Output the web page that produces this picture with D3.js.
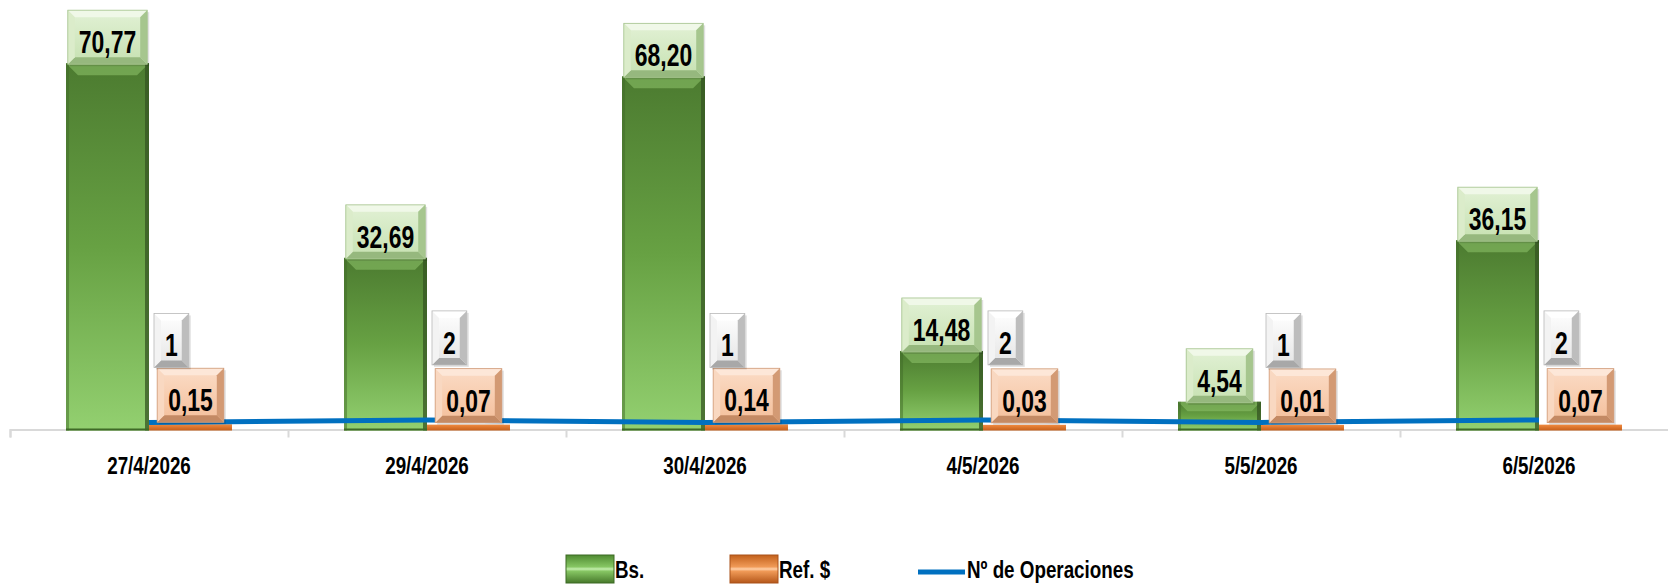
<!DOCTYPE html>
<html>
<head>
<meta charset="utf-8">
<script src="https://cdn.jsdelivr.net/npm/d3@7"></script>
<style>
  body { margin: 0; background: #fff; }
  text { font-family: "Liberation Sans", Arial, sans-serif; font-weight: bold; fill: #000; }
</style>
</head>
<body>
<div id="chart"></div>
<script>
// Chart data
const dates = ["27/4/2026", "29/4/2026", "30/4/2026", "4/5/2026", "5/5/2026", "6/5/2026"];
const bsValues = [70.77, 32.69, 68.20, 14.48, 4.54, 36.15];
const refValues = [0.15, 0.07, 0.14, 0.03, 0.01, 0.07];
const opsValues = [1, 2, 1, 2, 1, 2];
const seriesNames = ["Bs.", "Ref. $", "Nº de Operaciones"];

const width = 1668, height = 584;
const axisY = 429.5;

const svg = d3.select('#chart')
    .append('svg')
    .attr('width', width)
    .attr('height', height);

// gradients
const defs = svg.append('defs');
function vGrad(id, stops) {
    let g = defs.append('linearGradient').attr('id', id)
        .attr('x1', 0).attr('y1', 0).attr('x2', 0).attr('y2', 1);
    stops.forEach(s => g.append('stop').attr('offset', s[0]).attr('stop-color', s[1]));
}
vGrad('barGreen', [[0, '#4c7b30'], [0.5, '#67a143'], [1, '#93d070']]);
vGrad('barOrange', [[0, '#f08a40'], [1, '#c65f1a']]);
vGrad('lblGreen', [[0, '#e2f1d5'], [1, '#c6e1b1']]);
vGrad('lblWhite', [[0, '#ffffff'], [1, '#e4e4e4']]);
vGrad('lblOrange', [[0, '#fbdcc6'], [1, '#f4bf9b']]);
vGrad('legGreen', [[0, '#4f8a31'], [0.42, '#86c663'], [0.5, '#c4eeae'], [0.58, '#86c663'], [1, '#47792b']]);
vGrad('legOrange', [[0, '#c2601b'], [0.42, '#f09a57'], [0.5, '#ffd0a8'], [0.58, '#f09a57'], [1, '#b5571a']]);

const palGreen = { face: 'url(#lblGreen)', top: '#f0f8e8', left: '#dbecca', right: '#a6c68e', bottom: '#96b87e', edge: '#a3c28c' };
const palWhite = { face: 'url(#lblWhite)', top: '#ffffff', left: '#f3f3f3', right: '#bdbdbd', bottom: '#a8a8a8', edge: '#b8b8b8' };
const palOrange = { face: 'url(#lblOrange)', top: '#fde7d8', left: '#f9d8c1', right: '#d39a74', bottom: '#c48a64', edge: '#cf9a78' };

// Scales
let x0 = d3.scaleBand()
    .domain(dates)
    .range([10, 1678])
    .paddingInner(0.403)
    .paddingOuter(0.2015);

let x1 = d3.scaleBand()
    .domain(['bs', 'ref'])
    .range([0, x0.bandwidth()]);

let xIdx = d3.scaleLinear()
    .domain([0, dates.length])
    .range([10, 1678]);

let yBar = d3.scaleLinear()
    .domain([0, 80])
    .range([425, 16]);

// hidden secondary axis for the operations line
let yOps = d3.scaleLinear()
    .domain([0, 160])
    .range([425, 16]);

// axis line + boundary ticks
let axisG = svg.append('g')
    .attr('transform', `translate(0, ${axisY})`)
    .call(d3.axisBottom(xIdx).ticks(dates.length).tickFormat('').tickSize(8).tickSizeOuter(8));
axisG.selectAll('path, line').attr('stroke', '#d9d9d9').attr('stroke-width', 2);

// category labels
let labG = svg.append('g')
    .attr('transform', `translate(0, ${axisY})`)
    .call(d3.axisBottom(x0).tickSize(0));
labG.select('.domain').remove();
labG.selectAll('text')
    .attr('y', 45)
    .attr('dy', 0)
    .style('font-size', '23.5px')
    .style('font-family', '"Liberation Sans", Arial, sans-serif')
    .style('font-weight', 'bold')
    .attr('fill', '#000')
    .attr('transform', 'scale(0.8,1)');

// green bars
let barG = svg.append('g');
dates.forEach((d, i) => {
    let bx = x0(d) + x1('bs');
    let bw = x1.bandwidth();
    let top = yBar(bsValues[i]);
    let h = axisY + 1 - top;
    let g = barG.append('g');
    g.append('rect')
        .attr('x', bx).attr('y', top)
        .attr('width', bw).attr('height', h)
        .attr('fill', 'url(#barGreen)');
    // bevel touches
    let b = Math.min(12, h / 3);
    g.append('polygon')
        .attr('points', [[bx, top], [bx + bw, top], [bx + bw - b, top + b], [bx + b, top + b]].join(' '))
        .attr('fill', '#8fc46c').attr('opacity', 0.55);
    g.append('rect')
        .attr('x', bx + bw - 4).attr('y', top)
        .attr('width', 4).attr('height', h)
        .attr('fill', '#345421').attr('opacity', 0.75);
    g.append('rect')
        .attr('x', bx).attr('y', top)
        .attr('width', 3).attr('height', h)
        .attr('fill', '#3f6a27').attr('opacity', 0.5);
    g.append('rect')
        .attr('x', bx).attr('y', axisY - 1)
        .attr('width', bw).attr('height', 2)
        .attr('fill', '#3f6a27');
});

// orange bars
dates.forEach((d, i) => {
    let bx = x0(d) + x1('ref');
    let top = yBar(refValues[i]);
    barG.append('rect')
        .attr('x', bx).attr('y', top)
        .attr('width', x1.bandwidth()).attr('height', axisY + 1 - top)
        .attr('fill', 'url(#barOrange)');
});

// operations line
let line = d3.line()
    .x((d, i) => x0(dates[i]) + x0.bandwidth() / 2)
    .y(d => yOps(d));

svg.append('path')
    .datum(opsValues)
    .attr('fill', 'none')
    .attr('stroke', '#0070c0')
    .attr('stroke-width', 5)
    .attr('d', line);

// bevelled label box
function bevelBox(parent, x, y, w, h, pal, b) {
    let g = parent.append('g');
    g.append('rect').attr('x', x + 2).attr('y', y + 2).attr('width', w).attr('height', h)
        .attr('fill', '#000').attr('opacity', 0.12);
    g.append('rect').attr('x', x).attr('y', y).attr('width', w).attr('height', h).attr('fill', pal.face);
    g.append('polygon').attr('points', [[x, y], [x + w, y], [x + w - b, y + b], [x + b, y + b]].join(' ')).attr('fill', pal.top);
    g.append('polygon').attr('points', [[x, y + h], [x + w, y + h], [x + w - b, y + h - b], [x + b, y + h - b]].join(' ')).attr('fill', pal.bottom);
    g.append('polygon').attr('points', [[x, y], [x + b, y + b], [x + b, y + h - b], [x, y + h]].join(' ')).attr('fill', pal.left);
    g.append('polygon').attr('points', [[x + w, y], [x + w - b, y + b], [x + w - b, y + h - b], [x + w, y + h]].join(' ')).attr('fill', pal.right);
    g.append('rect').attr('x', x).attr('y', y).attr('width', w).attr('height', h)
        .attr('fill', 'none').attr('stroke', pal.edge).attr('stroke-width', 0.8);
    return g;
}

const labelLayer = svg.append('g');
const sx = 0.74, fs = 31, boxH = 54;

// adds a label; anchor: 'center' uses cx, 'left' uses left edge
function valueLabel(str, pos, bottom, anchor, pal) {
    let g = labelLayer.append('g');
    let t = g.append('text')
        .style('font-size', fs + 'px')
        .attr('text-anchor', 'middle')
        .text(str);
    let tw = t.node().getComputedTextLength() * sx;
    let w = tw + 22;
    let cx = anchor === 'left' ? pos + w / 2 : pos;
    t.remove();
    bevelBox(g, cx - w / 2, bottom - boxH, w, boxH, pal, 7);
    g.append('text')
        .style('font-size', fs + 'px')
        .attr('text-anchor', 'middle')
        .attr('transform', `translate(${cx}, ${bottom - 11}) scale(${sx},1)`)
        .text(str);
}

let fmt = v => d3.format('.2f')(v).replace('.', ',');

dates.forEach((d, i) => {
    // Bs.
    valueLabel(fmt(bsValues[i]), x0(d) + x1('bs') + x1.bandwidth() / 2, yBar(bsValues[i]) + 1, 'center', palGreen);
    // Ref. $
    valueLabel(fmt(refValues[i]), x0(d) + x1('ref') + x1.bandwidth() / 2, yBar(refValues[i]) - 2, 'center', palOrange);
    // Nº de Operaciones
    valueLabel(String(opsValues[i]), x0(d) + x0.bandwidth() / 2 + 5, yOps(opsValues[i]) - 55, 'left', palWhite);
});

// Legend
let legend = svg.append('g');
let legItems = [
    { name: seriesNames[0], x: 566, type: 'bar', grad: 'url(#legGreen)', edge: '#3c6a24' },
    { name: seriesNames[1], x: 730, type: 'bar', grad: 'url(#legOrange)', edge: '#a9521a' },
    { name: seriesNames[2], x: 918, type: 'line' }
];
legItems.forEach(it => {
    if (it.type === 'bar') {
        legend.append('rect')
            .attr('x', it.x).attr('y', 555)
            .attr('width', 48).attr('height', 28)
            .attr('fill', it.grad)
            .attr('stroke', it.edge).attr('stroke-width', 1);
    } else {
        legend.append('line')
            .attr('x1', it.x).attr('x2', it.x + 47)
            .attr('y1', 572).attr('y2', 572)
            .attr('stroke', '#0070c0').attr('stroke-width', 5);
    }
    legend.append('text')
        .style('font-size', '23.5px')
        .attr('transform', `translate(${it.x + 49}, 578) scale(0.8,1)`)
        .text(it.name);
});
</script>
</body>
</html>
